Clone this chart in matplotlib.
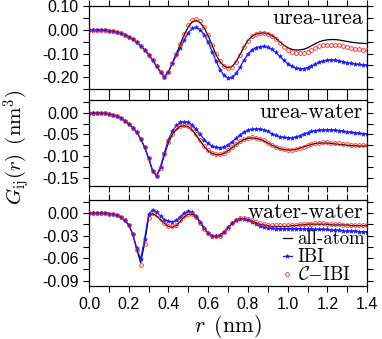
"""Kirkwood-Buff integrals G_ij(r): all-atom vs IBI vs C-IBI"""
import numpy as np
import matplotlib.pyplot as plt
from matplotlib.ticker import MultipleLocator

plt.rcParams['mathtext.fontset'] = 'cm'
plt.rcParams['font.family'] = ['Liberation Sans', 'DejaVu Sans']
plt.rcParams['axes.unicode_minus'] = False

# r grid (nm), one value every 0.02 nm
r = np.linspace(0.0, 1.4, 71)

# urea-urea
uu_aa = [0.000, 0.000, 0.000, 0.000, -0.001, -0.003, -0.006, -0.010, -0.015, -0.022,
         -0.030, -0.040, -0.053, -0.068, -0.085, -0.105, -0.128, -0.153, -0.178, -0.197,
         -0.178, -0.138, -0.100, -0.060, -0.020, 0.013, 0.034, 0.040, 0.030, 0.008,
         -0.025, -0.065, -0.105, -0.135, -0.153, -0.160, -0.155, -0.135, -0.105, -0.072,
         -0.045, -0.028, -0.018, -0.014, -0.013, -0.016, -0.024, -0.036, -0.050, -0.064,
         -0.075, -0.082, -0.085, -0.085, -0.082, -0.076, -0.067, -0.058, -0.050, -0.045,
         -0.042, -0.041, -0.041, -0.043, -0.046, -0.049, -0.052, -0.054, -0.056, -0.057,
         -0.058]
uu_ibi = [0.000, 0.000, 0.000, 0.000, -0.001, -0.003, -0.006, -0.010, -0.015, -0.022,
          -0.030, -0.040, -0.053, -0.068, -0.085, -0.105, -0.128, -0.153, -0.178, -0.197,
          -0.178, -0.140, -0.108, -0.075, -0.042, -0.012, 0.006, 0.010, 0.001, -0.020,
          -0.052, -0.092, -0.133, -0.168, -0.192, -0.203, -0.200, -0.184, -0.158, -0.128,
          -0.102, -0.085, -0.075, -0.071, -0.070, -0.073, -0.082, -0.095, -0.112, -0.128,
          -0.142, -0.153, -0.160, -0.163, -0.163, -0.159, -0.152, -0.144, -0.136, -0.131,
          -0.128, -0.127, -0.127, -0.130, -0.134, -0.138, -0.141, -0.144, -0.146, -0.147,
          -0.148]
uu_cibi = [0.000, 0.000, 0.000, 0.000, -0.001, -0.003, -0.006, -0.010, -0.015, -0.022,
           -0.030, -0.040, -0.053, -0.068, -0.085, -0.105, -0.128, -0.153, -0.178, -0.197,
           -0.178, -0.138, -0.100, -0.058, -0.017, 0.020, 0.042, 0.046, 0.036, 0.012,
           -0.022, -0.062, -0.102, -0.133, -0.152, -0.159, -0.155, -0.136, -0.106, -0.073,
           -0.045, -0.027, -0.016, -0.012, -0.012, -0.016, -0.026, -0.040, -0.056, -0.071,
           -0.084, -0.093, -0.098, -0.099, -0.097, -0.092, -0.085, -0.077, -0.070, -0.066,
           -0.064, -0.063, -0.063, -0.065, -0.068, -0.072, -0.076, -0.079, -0.082, -0.084,
           -0.085]

# urea-water
uw_aa = [0.000, 0.000, 0.000, 0.000, -0.001, -0.003, -0.005, -0.008, -0.012, -0.018,
         -0.025, -0.034, -0.045, -0.060, -0.080, -0.105, -0.134, -0.146, -0.128, -0.097,
         -0.068, -0.050, -0.038, -0.031, -0.030, -0.032, -0.040, -0.052, -0.065, -0.078,
         -0.088, -0.094, -0.097, -0.097, -0.094, -0.088, -0.081, -0.074, -0.067, -0.062,
         -0.059, -0.058, -0.059, -0.061, -0.065, -0.070, -0.075, -0.079, -0.083, -0.085,
         -0.086, -0.086, -0.085, -0.082, -0.079, -0.076, -0.073, -0.071, -0.070, -0.070,
         -0.070, -0.071, -0.072, -0.073, -0.074, -0.075, -0.076, -0.076, -0.077, -0.077,
         -0.077]
uw_ibi = [0.000, 0.000, 0.000, 0.000, -0.001, -0.003, -0.005, -0.008, -0.012, -0.018,
          -0.025, -0.034, -0.045, -0.060, -0.080, -0.105, -0.134, -0.146, -0.125, -0.092,
          -0.062, -0.042, -0.029, -0.022, -0.020, -0.022, -0.028, -0.038, -0.050, -0.062,
          -0.071, -0.077, -0.080, -0.081, -0.079, -0.074, -0.067, -0.059, -0.051, -0.045,
          -0.040, -0.038, -0.037, -0.037, -0.039, -0.043, -0.048, -0.052, -0.055, -0.057,
          -0.058, -0.058, -0.056, -0.053, -0.049, -0.046, -0.043, -0.041, -0.040, -0.039,
          -0.039, -0.039, -0.040, -0.041, -0.043, -0.044, -0.045, -0.046, -0.047, -0.048,
          -0.048]
uw_cibi = [0.000, 0.000, 0.000, 0.000, -0.001, -0.003, -0.005, -0.008, -0.012, -0.018,
           -0.025, -0.034, -0.045, -0.060, -0.080, -0.105, -0.134, -0.147, -0.128, -0.096,
           -0.067, -0.048, -0.036, -0.030, -0.028, -0.030, -0.038, -0.050, -0.063, -0.076,
           -0.086, -0.092, -0.095, -0.095, -0.092, -0.087, -0.080, -0.073, -0.066, -0.061,
           -0.058, -0.057, -0.058, -0.060, -0.064, -0.069, -0.074, -0.078, -0.082, -0.084,
           -0.085, -0.085, -0.084, -0.081, -0.078, -0.075, -0.072, -0.070, -0.069, -0.068,
           -0.068, -0.069, -0.070, -0.071, -0.072, -0.073, -0.074, -0.074, -0.075, -0.075,
           -0.075]

# water-water
ww_aa = [0.000, 0.000, 0.000, 0.000, 0.000, -0.001, -0.002, -0.003, -0.006, -0.010,
         -0.016, -0.028, -0.048, -0.066, -0.040, -0.006, -0.001, -0.004, -0.009, -0.014,
         -0.018, -0.019, -0.017, -0.011, -0.005, -0.002, -0.002, -0.006, -0.013, -0.021,
         -0.027, -0.030, -0.031, -0.030, -0.026, -0.020, -0.014, -0.010, -0.008, -0.008,
         -0.009, -0.011, -0.013, -0.015, -0.016, -0.017, -0.018, -0.018, -0.018, -0.018,
         -0.018, -0.017, -0.017, -0.016, -0.016, -0.015, -0.015, -0.015, -0.015, -0.015,
         -0.015, -0.016, -0.016, -0.016, -0.016, -0.016, -0.017, -0.017, -0.017, -0.017,
         -0.017]
ww_ibi = [0.000, 0.000, 0.000, 0.000, 0.000, -0.001, -0.002, -0.003, -0.006, -0.010,
          -0.016, -0.028, -0.047, -0.061, -0.034, -0.002, 0.004, 0.001, -0.004, -0.009,
          -0.011, -0.012, -0.010, -0.005, 0.000, 0.002, 0.001, -0.004, -0.012, -0.020,
          -0.027, -0.030, -0.031, -0.029, -0.025, -0.019, -0.014, -0.010, -0.008, -0.008,
          -0.010, -0.012, -0.015, -0.017, -0.019, -0.020, -0.020, -0.021, -0.021, -0.021,
          -0.021, -0.021, -0.021, -0.021, -0.021, -0.021, -0.021, -0.022, -0.022, -0.022,
          -0.022, -0.023, -0.023, -0.023, -0.024, -0.024, -0.024, -0.024, -0.025, -0.025,
          -0.025]
ww_cibi = [0.000, 0.000, 0.000, 0.000, 0.000, -0.001, -0.002, -0.003, -0.006, -0.010,
           -0.016, -0.028, -0.049, -0.069, -0.041, -0.007, 0.000, -0.003, -0.008, -0.013,
           -0.017, -0.018, -0.016, -0.010, -0.004, -0.001, -0.002, -0.006, -0.013, -0.021,
           -0.027, -0.030, -0.031, -0.030, -0.026, -0.020, -0.014, -0.009, -0.007, -0.007,
           -0.008, -0.010, -0.012, -0.014, -0.015, -0.016, -0.016, -0.016, -0.016, -0.016,
           -0.016, -0.016, -0.016, -0.015, -0.015, -0.015, -0.015, -0.014, -0.014, -0.014,
           -0.015, -0.015, -0.015, -0.015, -0.016, -0.016, -0.016, -0.016, -0.016, -0.016,
           -0.016]

panels = ['urea-urea', 'urea-water', 'water-water']
ylims = [(-0.25, 0.10), (-0.17, 0.03), (-0.097, 0.017)]
ymajor = [0.10, 0.05, 0.03]
series = [(uu_aa, uu_ibi, uu_cibi), (uw_aa, uw_ibi, uw_cibi), (ww_aa, ww_ibi, ww_cibi)]

serif = ['cmr10', 'DejaVu Serif']
fig = plt.figure(figsize=(3.82, 3.39), dpi=100)
boxes = [[0.233, 0.737, 0.728, 0.245],
         [0.233, 0.451, 0.728, 0.254],
         [0.233, 0.156, 0.728, 0.254]]

axes = []
for i, (box, name) in enumerate(zip(boxes, panels)):
    ax = fig.add_axes(box)
    aa, ibi, cibi = series[i]
    ax.plot(r, aa, '-', color='black', lw=0.9, zorder=1, label='all-atom')
    ax.plot(r, ibi, '-*', color='#1a1aff', lw=0.9, ms=3.2, mew=0.4, zorder=2, label='IBI')
    ax.plot(r, cibi, 'o', mfc='none', mec='#ff2020', ms=2.7, mew=0.6, zorder=3,
            label=r'$\mathcal{C}$$-$IBI')
    ax.set_xlim(0, 1.4)
    ax.set_ylim(*ylims[i])
    ax.xaxis.set_major_locator(MultipleLocator(0.2))
    ax.xaxis.set_minor_locator(MultipleLocator(0.1))
    ax.yaxis.set_major_locator(MultipleLocator(ymajor[i]))
    ax.yaxis.set_minor_locator(MultipleLocator(ymajor[i] / 2))
    ax.yaxis.set_major_formatter(plt.FormatStrFormatter('%.2f'))
    ax.tick_params(which='both', direction='out', top=True, right=True,
                   length=4, width=0.8, labelsize=11.5)
    if i < 2:
        ax.tick_params(labelbottom=False)
    for s in ax.spines.values():
        s.set_linewidth(0.9)
    ax.text(0.985, 0.97, name, transform=ax.transAxes, ha='right', va='top',
            family=serif, fontsize=16)
    axes.append(ax)

axes[2].set_xlabel(r'$r\ \,(\mathrm{nm})$', fontsize=16, labelpad=1)
fig.text(0.042, 0.565, r'$G_{\rm ij}(r)\ \,(\mathrm{nm}^3)$', rotation=90,
         ha='center', va='center', fontsize=15)

axes[2].legend(loc='lower right', frameon=False, prop={'family': serif, 'size': 13.5},
               handlelength=0.5, handletextpad=0.3, labelspacing=0.0,
               borderpad=0.0, borderaxespad=0.1)

fig.savefig('out.png', dpi=100)
